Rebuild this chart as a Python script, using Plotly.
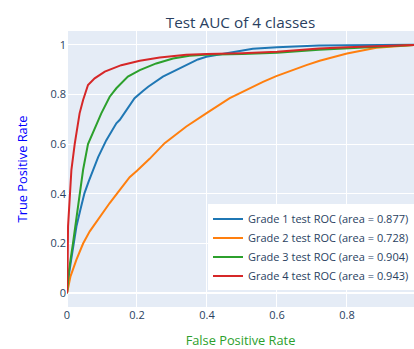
import plotly.graph_objects as go

labels = [
    "Grade 1 test ROC (area = 0.877)",
    "Grade 2 test ROC (area = 0.728)",
    "Grade 3 test ROC (area = 0.904)",
    "Grade 4 test ROC (area = 0.943)",
]
colors = ["#1f77b4", "#ff7f0e", "#2ca02c", "#d62728"]

fpr_g1 = [0, 0.005, 0.012, 0.019, 0.027, 0.038, 0.05, 0.062, 0.074, 0.089, 0.112, 0.122,
          0.141, 0.151, 0.17, 0.193, 0.217, 0.232, 0.274, 0.322, 0.374, 0.398, 0.474,
          0.531, 0.6, 0.72, 0.8, 0.9, 1.0]
tpr_g1 = [0, 0.07, 0.135, 0.2, 0.269, 0.335, 0.403, 0.45, 0.497, 0.548, 0.615, 0.637,
          0.684, 0.698, 0.738, 0.785, 0.814, 0.831, 0.872, 0.905, 0.941, 0.952, 0.972,
          0.984, 0.99, 0.997, 0.998, 0.999, 1.0]

fpr_g2 = [0, 0.01, 0.027, 0.046, 0.065, 0.108, 0.122, 0.151, 0.179, 0.2, 0.236, 0.279,
          0.341, 0.401, 0.465, 0.56, 0.598, 0.684, 0.722, 0.8, 0.884, 1.0]
tpr_g2 = [0, 0.068, 0.135, 0.2, 0.249, 0.336, 0.363, 0.416, 0.467, 0.493, 0.541, 0.604,
          0.671, 0.727, 0.785, 0.851, 0.874, 0.918, 0.936, 0.965, 0.988, 1.0]

fpr_g3 = [0, 0.006, 0.017, 0.031, 0.038, 0.046, 0.06, 0.079, 0.098, 0.122, 0.141, 0.174,
          0.208, 0.255, 0.303, 0.35, 0.394, 0.5, 0.6, 0.72, 0.8, 0.9, 1.0]
tpr_g3 = [0, 0.095, 0.2, 0.336, 0.403, 0.497, 0.6, 0.664, 0.724, 0.791, 0.825, 0.872,
          0.898, 0.925, 0.945, 0.956, 0.96, 0.963, 0.968, 0.98, 0.985, 0.993, 1.0]

fpr_g4 = [0, 0, 0.002, 0.003, 0.008, 0.0126, 0.022, 0.036, 0.046, 0.06, 0.079, 0.108,
          0.155, 0.208, 0.265, 0.341, 0.4, 0.5, 0.6, 0.72, 0.8, 0.9, 1.0]
tpr_g4 = [0, 0.1, 0.135, 0.269, 0.403, 0.497, 0.6, 0.724, 0.778, 0.838, 0.865, 0.892,
          0.918, 0.936, 0.949, 0.96, 0.963, 0.966, 0.972, 0.985, 0.99, 0.995, 1.0]

fprs = [fpr_g1, fpr_g2, fpr_g3, fpr_g4]
tprs = [tpr_g1, tpr_g2, tpr_g3, tpr_g4]

fig = go.Figure()
for fx, ty, name, c in zip(fprs, tprs, labels, colors):
    fig.add_trace(go.Scatter(x=fx, y=ty, mode="lines", name=name,
                             line=dict(color=c, width=2)))

fig.update_layout(
    width=414, height=349,
    margin=dict(l=67, r=0, t=31, b=42),
    template="plotly",
    font=dict(size=11),
    title=dict(text="Test AUC of 4 classes", x=0.5, xref="paper", xanchor="center",
               y=0.935, yref="container", yanchor="middle", font=dict(size=15.3)),
    xaxis=dict(title=dict(text="False Positive Rate", font=dict(color="#2ca02c", size=12.8)),
               range=[0, 0.9915], tickvals=[0, 0.2, 0.4, 0.6, 0.8],
               ticktext=["0", "0.2", "0.4", "0.6", "0.8"]),
    yaxis=dict(title=dict(text="True Positive Rate", font=dict(color="blue", size=12.8),
                          standoff=20),
               tickvals=[0, 0.2, 0.4, 0.6, 0.8, 1],
               ticktext=["0", "0.2", "0.4", "0.6", "0.8", "1"]),
    legend=dict(x=1, xanchor="right", y=0.06, yanchor="bottom",
                bgcolor="white"),
)

fig.write_html("out.html")
